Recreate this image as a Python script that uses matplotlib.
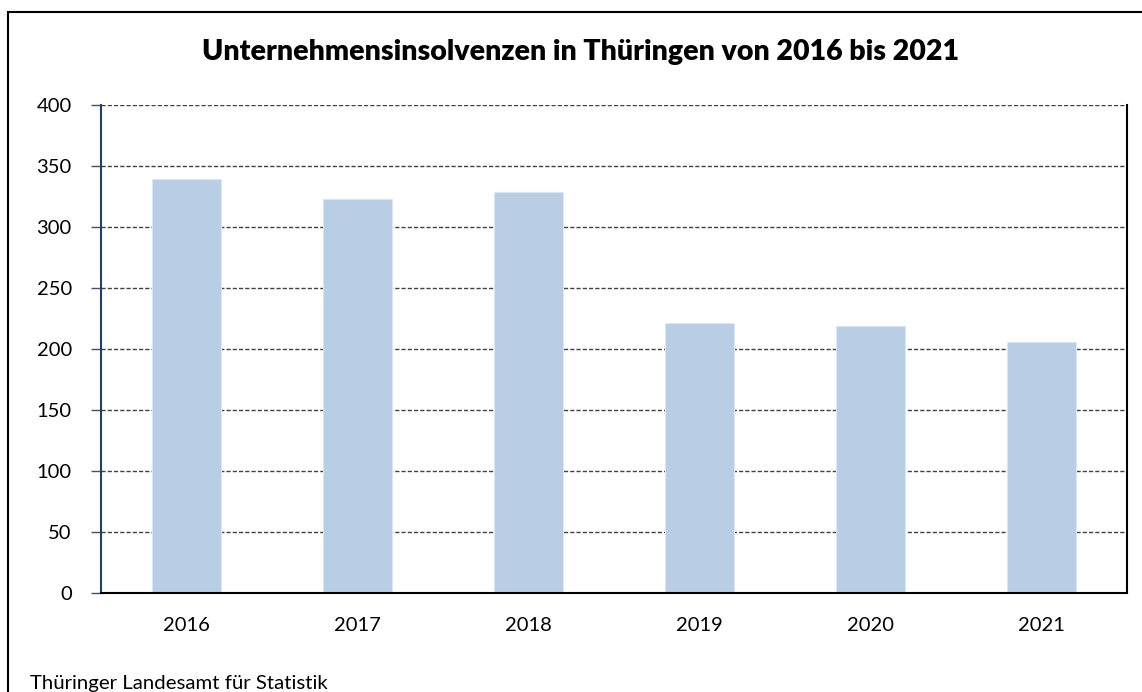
import matplotlib.pyplot as plt
from matplotlib.patches import Rectangle

jahre = ["2016", "2017", "2018", "2019", "2020", "2021"]
insolvenzen = [339, 323, 329, 221, 219, 206]
y_ticks = [0, 50, 100, 150, 200, 250, 300, 350, 400]

plt.rcParams['font.family'] = ['Lato', 'DejaVu Sans']

fig = plt.figure(figsize=(11.42, 6.92), dpi=100)
ax = fig.add_axes([0.0884, 0.1431, 0.8985, 0.7052])

# Gitterlinien hinter den Balken
ax.set_axisbelow(True)
ax.yaxis.grid(True, color='#404040', linestyle=(0, (3, 1.5)), linewidth=1.0)

x = range(len(jahre))
ax.bar(x, insolvenzen, width=0.4, color='#b9cde5', edgecolor='#dce6f2', linewidth=0.8)

ax.set_xlim(-0.5, len(jahre) - 0.5)
ax.set_ylim(0, 400)
ax.set_yticks(y_ticks)
ax.set_xticks(list(x))
ax.set_xticklabels(jahre)
ax.tick_params(axis='y', length=7, width=1, color='#3a5475', labelsize=14.5, pad=14)
ax.tick_params(axis='x', length=0, labelsize=14.5, pad=17)

ax.spines['top'].set_visible(False)
ax.spines['left'].set_color('#243f60')
ax.spines['left'].set_linewidth(1.5)
ax.spines['bottom'].set_color('black')
ax.spines['bottom'].set_linewidth(1.5)
ax.spines['right'].set_color('black')
ax.spines['right'].set_linewidth(1.5)

fig.text(0.508, 0.925, "Unternehmensinsolvenzen in Thüringen von 2016 bis 2021",
         ha='center', va='center', fontsize=20.5, fontweight='heavy')
fig.text(0.0265, 0.004, "Thüringer Landesamt für Statistik", ha='left', va='baseline', fontsize=14.7)

# Rahmen um die ganze Grafik
fig.patches.append(Rectangle((0.007, -0.05), 1.1, 1.033, transform=fig.transFigure,
                             fill=False, edgecolor='black', linewidth=1.5))

fig.savefig("out.png", dpi=100)
